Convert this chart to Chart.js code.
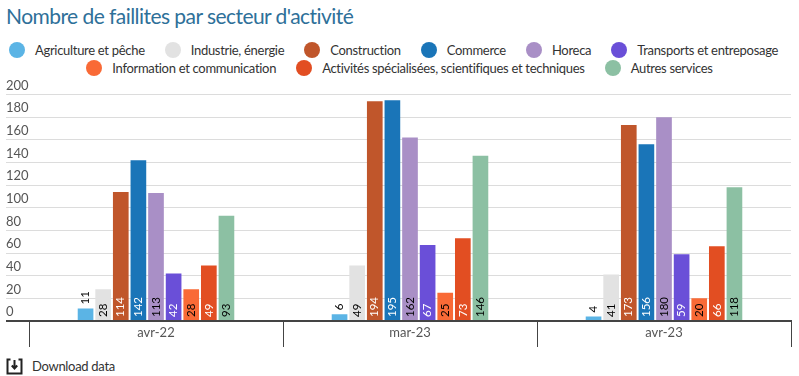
<!DOCTYPE html>
<html lang="fr">
<head>
<meta charset="utf-8">
<title>Nombre de faillites par secteur d'activité</title>
<script src="https://cdn.jsdelivr.net/npm/chart.js@4"></script>
<style>
  html, body { margin: 0; padding: 0; background: #fff; }
  body { position: relative; width: 799px; height: 376px; overflow: hidden; font-family: Lato, sans-serif; color: #333; }
  #title { position: absolute; left: 6px; top: 3px; font-size: 21px; letter-spacing: -0.55px; line-height: 26px; color: #2e7099; white-space: nowrap; }
  #legend { position: absolute; left: 0; top: 41px; width: 799px; display: flex; flex-wrap: wrap; justify-content: center; font-size: 13px; letter-spacing: -0.3px; line-height: 18px; }
  #legend .item { position: relative; display: flex; align-items: center; margin: 0 10px; white-space: nowrap; }
  #legend .item:nth-child(-n+6) { left: -6px; }
  #legend .dot { width: 16px; height: 16px; border-radius: 50%; margin-right: 10px; }
  #lineChart { position: absolute; left: 0; top: 78px; }
  #download { position: absolute; left: 32px; top: 358px; font-size: 13px; letter-spacing: -0.3px; line-height: 17px; color: #333; }
  #icon { position: absolute; left: 6px; top: 358px; }
</style>
</head>
<body>
<div id="title">Nombre de faillites par secteur d'activité</div>
<div id="legend"></div>
<canvas id="lineChart" width="799" height="273"></canvas>
<svg id="icon" width="17" height="17" viewBox="0 0 17 17" fill="none" stroke="#222" stroke-width="2">
  <path d="M4.5 1.5H1.5v14h14v-14h-3"/>
  <path d="M8.5 2v8M5.8 7.5l2.7 3 2.7-3"/>
</svg>
<div id="download">Download data</div>
<script>
const categories = ["avr-22", "mar-23", "avr-23"];
const sectors = [
    "Agriculture et pêche",
    "Industrie, énergie",
    "Construction",
    "Commerce",
    "Horeca",
    "Transports et entreposage",
    "Information et communication",
    "Activités spécialisées, scientifiques et techniques",
    "Autres services",
];
const agriculture = [11, 6, 4];
const industrie = [28, 49, 41];
const construction = [114, 194, 173];
const commerce = [142, 195, 156];
const horeca = [113, 162, 180];
const transports = [42, 67, 59];
const information = [28, 25, 20];
const activites = [49, 73, 66];
const autres = [93, 146, 118];
const seriesValues = [agriculture, industrie, construction, commerce, horeca, transports, information, activites, autres];
const colors = ["#5bb4e5", "#e2e2e2", "#c0562b", "#1a75b8", "#a98fc6", "#6a4fd8", "#f96a36", "#e24e22", "#8cc0a3"];
const labelColors = ["#000", "#000", "#fff", "#fff", "#000", "#fff", "#000", "#fff", "#000"];

// rotated value labels, inside the bar unless it is too short
const valueLabels = {
    id: "valueLabels",
    afterDatasetsDraw(chart) {
        const ctx = chart.ctx;
        const base = chart.scales.y.getPixelForValue(0);
        ctx.save();
        ctx.font = "11.5px Lato";
        ctx.textBaseline = "middle";
        ctx.textAlign = "left";
        chart.data.datasets.forEach((ds, i) => {
            chart.getDatasetMeta(i).data.forEach((bar, j) => {
                const value = ds.data[j];
                const small = value < 15;
                ctx.save();
                ctx.translate(bar.x, small ? bar.y - 4 : base - 4);
                ctx.rotate(-Math.PI / 2);
                ctx.fillStyle = small ? "#000" : labelColors[i];
                ctx.fillText(value, 0, 0);
                ctx.restore();
            });
        });
        ctx.restore();
    },
};

new Chart(document.getElementById("lineChart"), {
    type: "bar",
    data: {
        labels: categories,
        datasets: sectors.map((name, i) => ({
            label: name,
            data: seriesValues[i],
            backgroundColor: colors[i],
            categoryPercentage: 0.624,
            barPercentage: 0.89,
        })),
    },
    options: {
        responsive: false,
        animation: false,
        layout: { padding: { left: 6, right: 8, top: 16.5, bottom: 0 } },
        plugins: { legend: { display: false }, tooltip: { enabled: false } },
        scales: {
            x: {
                grid: { drawOnChartArea: false, drawTicks: true, tickLength: 26, color: "#444", lineWidth: 1 },
                border: { display: false },
                ticks: { padding: -22, color: "#555", font: { family: "Lato", size: 13 }, maxRotation: 0 },
                afterFit(scale) { scale.height = 30; },
            },
            y: {
                min: 0,
                max: 200,
                grid: {
                    tickLength: 23,
                    lineWidth: 1,
                    color: (c) => (c.tick.value === 0 ? "#444" : "#dcdcdc"),
                },
                border: { display: false },
                ticks: {
                    stepSize: 20,
                    crossAlign: "far",
                    labelOffset: -9,
                    color: "#555",
                    font: { family: "Lato", size: 13 },
                },
                afterFit(scale) { scale.width = 23; },
            },
        },
    },
    plugins: [valueLabels, {
        // thick baseline across the whole width
        id: "baseline",
        afterDatasetsDraw(chart) {
            const ctx = chart.ctx;
            const y = chart.scales.y.getPixelForValue(0);
            ctx.save();
            ctx.strokeStyle = "#444";
            ctx.lineWidth = 2;
            ctx.beginPath();
            ctx.moveTo(6, y);
            ctx.lineTo(chart.chartArea.right + 1, y);
            ctx.stroke();
            ctx.restore();
        },
    }],
});

const legend = document.getElementById("legend");
sectors.forEach((name, i) => {
    const item = document.createElement("div");
    item.className = "item";
    const dot = document.createElement("span");
    dot.className = "dot";
    dot.style.background = colors[i];
    item.appendChild(dot);
    item.appendChild(document.createTextNode(name));
    legend.appendChild(item);
});
</script>
</body>
</html>
